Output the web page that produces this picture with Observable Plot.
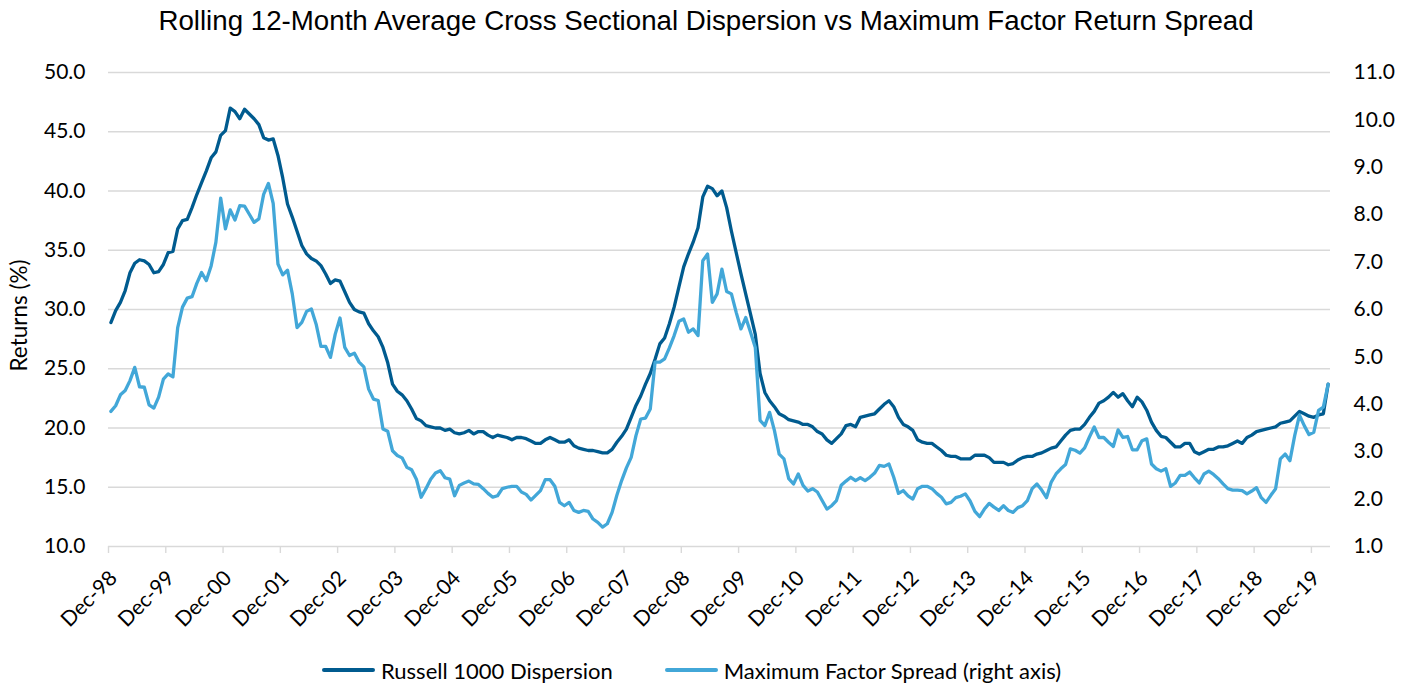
<!DOCTYPE html>
<html>
<head>
<meta charset="utf-8">
<script src="https://cdn.jsdelivr.net/npm/d3@7"></script>
<script src="https://cdn.jsdelivr.net/npm/@observablehq/plot@0.6"></script>
<style>
  html, body { margin: 0; padding: 0; background: #fff; }
  body { width: 1412px; height: 684px; position: relative; overflow: hidden; }
  #title { position: absolute; left: 0; top: 0; width: 1412px; height: 40px; line-height: 42px;
           text-align: center; font-family: "Liberation Sans", Arial, sans-serif; font-size: 27.7px; color: #000; }
  #chart { position: absolute; left: 0; top: 40px; }
  #legend { position: absolute; left: 322px; top: 655px; height: 30px; display: flex; align-items: center;
            font-family: Lato, sans-serif; font-size: 22px; color: #000; }
  .sw { display: inline-block; width: 53px; height: 4px; border-radius: 2px; margin-right: 6px; }
</style>
</head>
<body>
<div id="title">Rolling 12-Month Average Cross Sectional Dispersion vs Maximum Factor Return Spread</div>
<div id="chart"></div>
<div id="legend"></div>
<script>
// ---- Data (monthly, Dec-98 .. Mar-20) ----
const startLabel = "Dec-98";
const xTickLabels = ["Dec-98","Dec-99","Dec-00","Dec-01","Dec-02","Dec-03","Dec-04","Dec-05","Dec-06","Dec-07",
  "Dec-08","Dec-09","Dec-10","Dec-11","Dec-12","Dec-13","Dec-14","Dec-15","Dec-16","Dec-17","Dec-18","Dec-19"];
const seriesNames = ["Russell 1000 Dispersion", "Maximum Factor Spread (right axis)"];
const seriesColors = ["#005b8f", "#42a7d8"];

// Russell 1000 Dispersion (left axis, %)
const dispersion = [
  28.9,29.9,30.6,31.6,33.1,33.9,34.2,34.1,33.8,33.1,33.2,33.8,
  34.8,34.9,36.8,37.5,37.6,38.6,39.7,40.7,41.7,42.8,43.3,44.7,
  45.1,47.0,46.7,46.1,46.9,46.5,46.1,45.6,44.5,44.3,44.4,43.0,
  41.1,38.9,37.8,36.6,35.4,34.7,34.3,34.1,33.7,33.0,32.2,32.5,
  32.4,31.5,30.6,30.0,29.8,29.7,28.8,28.2,27.7,26.8,25.5,23.7,
  23.1,22.8,22.3,21.6,20.8,20.6,20.2,20.1,20.0,20.0,19.8,19.9,
  19.6,19.5,19.6,19.8,19.5,19.7,19.7,19.4,19.2,19.4,19.3,19.2,
  19.0,19.2,19.2,19.1,18.9,18.7,18.7,19.0,19.2,19.0,18.8,18.8,
  19.0,18.5,18.3,18.2,18.1,18.1,18.0,17.9,17.9,18.2,18.8,19.3,
  19.9,20.9,21.9,22.7,23.7,24.6,25.8,27.1,27.6,28.8,30.2,31.9,
  33.6,34.7,35.7,36.9,39.5,40.4,40.2,39.6,40.0,38.6,36.6,34.8,
  33.0,31.3,29.6,27.9,24.6,23.0,22.3,21.8,21.2,21.0,20.7,20.6,
  20.5,20.3,20.3,20.1,19.7,19.5,19.0,18.7,19.1,19.5,20.2,20.3,
  20.1,20.9,21.0,21.1,21.2,21.6,22.0,22.3,21.8,20.9,20.3,20.1,
  19.8,19.0,18.8,18.7,18.7,18.4,18.1,17.7,17.6,17.6,17.4,17.4,
  17.4,17.7,17.7,17.7,17.5,17.1,17.1,17.1,16.9,17.0,17.3,17.5,
  17.6,17.6,17.8,17.9,18.1,18.3,18.4,18.9,19.4,19.8,19.9,19.9,
  20.3,20.9,21.4,22.1,22.3,22.6,23.0,22.6,22.9,22.3,21.8,22.6,
  22.2,21.5,20.5,19.8,19.3,19.2,18.8,18.4,18.4,18.7,18.7,18.0,
  17.8,18.0,18.2,18.2,18.4,18.4,18.5,18.7,18.9,18.7,19.2,19.4,
  19.7,19.8,19.9,20.0,20.1,20.4,20.5,20.6,21.0,21.4,21.2,21.0,
  20.9,21.1,21.2,23.7
];

// Maximum Factor Spread (right axis)
const factorSpread = [
  3.85,3.97,4.20,4.29,4.50,4.78,4.37,4.36,3.99,3.92,4.15,4.53,
  4.64,4.58,5.62,6.05,6.24,6.27,6.55,6.78,6.61,6.92,7.42,8.35,
  7.70,8.10,7.89,8.19,8.18,8.01,7.84,7.91,8.43,8.66,8.24,6.96,
  6.73,6.83,6.33,5.62,5.73,5.96,6.01,5.69,5.22,5.22,4.99,5.48,
  5.82,5.20,5.03,5.08,4.89,4.79,4.32,4.11,4.08,3.48,3.43,3.02,
  2.92,2.87,2.67,2.62,2.42,2.04,2.22,2.42,2.55,2.60,2.45,2.42,
  2.07,2.29,2.34,2.38,2.32,2.31,2.22,2.12,2.04,2.07,2.22,2.25,
  2.27,2.27,2.15,2.10,1.98,2.08,2.18,2.41,2.41,2.27,1.93,1.86,
  1.93,1.76,1.72,1.76,1.74,1.58,1.51,1.41,1.48,1.72,2.08,2.39,
  2.66,2.88,3.34,3.69,3.71,3.90,4.89,4.89,4.96,5.19,5.45,5.75,
  5.80,5.52,5.59,5.45,7.03,7.17,6.15,6.33,6.85,6.38,6.33,5.94,
  5.59,5.83,5.52,5.20,3.66,3.55,3.83,3.45,2.95,2.85,2.43,2.32,
  2.53,2.29,2.17,2.22,2.15,1.97,1.79,1.86,1.97,2.29,2.38,2.46,
  2.39,2.45,2.39,2.46,2.55,2.71,2.69,2.74,2.46,2.12,2.18,2.07,
  2.00,2.22,2.27,2.27,2.22,2.12,2.04,1.90,1.93,2.03,2.06,2.11,
  1.96,1.74,1.63,1.79,1.91,1.83,1.76,1.86,1.76,1.72,1.82,1.86,
  1.97,2.22,2.32,2.19,2.03,2.36,2.53,2.64,2.73,3.06,3.03,2.97,
  3.08,3.31,3.52,3.30,3.30,3.20,3.11,3.46,3.30,3.32,3.04,3.04,
  3.23,3.27,2.74,2.64,2.59,2.64,2.27,2.34,2.50,2.50,2.57,2.45,
  2.34,2.53,2.59,2.52,2.43,2.32,2.22,2.19,2.19,2.18,2.11,2.17,
  2.24,2.03,1.93,2.08,2.22,2.85,2.95,2.81,3.34,3.77,3.55,3.36,
  3.41,3.87,3.94,4.42
];

const leftTicks = [10, 15, 20, 25, 30, 35, 40, 45, 50];
const rightTicks = [1, 2, 3, 4, 5, 6, 7, 8, 9, 10, 11];
const yLabel = "Returns (%)";

// ---- Build ----
const nMonths = dispersion.length;             // 256
const xTicks = xTickLabels.map((_, k) => k * 12);
// map right-axis values onto the left scale (1..11 -> 10..50)
const toLeft = r => 10 + (r - 1) * 4;
const fromLeft = v => (v - 10) / 4 + 1;

const dispRows = dispersion.map((v, i) => ({x: i + 0.5, y: v}));
const spreadRows = factorSpread.map((v, i) => ({x: i + 0.5, y: toLeft(v)}));
const fmt = d3.format(".1f");

const chart = Plot.plot({
  width: 1412,
  height: 600,
  marginLeft: 108,
  marginRight: 82,
  marginTop: 32,
  marginBottom: 94,
  style: {fontFamily: "Lato, sans-serif", fontSize: "21px", color: "#000", background: "#fff"},
  x: {domain: [0, nMonths], label: null},
  y: {domain: [10, 50], label: null},
  marks: [
    Plot.gridY(leftTicks, {stroke: "#d9d9d9", strokeOpacity: 1, strokeWidth: 1.4}),
    Plot.axisY(leftTicks, {anchor: "left", tickSize: 0, tickPadding: 23, tickFormat: fmt, label: null, fill: "#000"}),
    Plot.axisY(rightTicks.map(toLeft), {anchor: "right", tickSize: 0, tickPadding: 23,
      tickFormat: v => fmt(fromLeft(v)), label: null, fill: "#000"}),
    // x tick marks
    Plot.axisX(xTicks, {anchor: "bottom", tickSize: 7, tickFormat: null, label: null,
      stroke: "#d9d9d9", strokeWidth: 1.4, fill: "none"}),
    // x tick labels
    Plot.axisX(xTicks, {anchor: "bottom", tickSize: 0, tickPadding: 28, tickRotate: -45, dx: 5,
      tickFormat: (d, i) => xTickLabels[i], label: null, fill: "#000"}),
    Plot.text([yLabel], {frameAnchor: "left", textAnchor: "middle", rotate: -90, dx: -89, dy: 6,
      fontSize: 22.5, fill: "#000"}),
    Plot.line(dispRows, {x: "x", y: "y", stroke: seriesColors[0], strokeWidth: 3.3}),
    Plot.line(spreadRows, {x: "x", y: "y", stroke: seriesColors[1], strokeWidth: 3.3})
  ]
});
document.getElementById("chart").appendChild(chart);

// ---- Legend ----
const legend = document.getElementById("legend");
seriesNames.forEach((name, k) => {
  const item = document.createElement("div");
  item.style.display = "flex";
  item.style.alignItems = "center";
  if (k > 0) item.style.marginLeft = "52px";
  const sw = document.createElement("span");
  sw.className = "sw";
  sw.style.background = seriesColors[k];
  const t = document.createElement("span");
  t.textContent = name;
  item.appendChild(sw);
  item.appendChild(t);
  legend.appendChild(item);
});
</script>
</body>
</html>
